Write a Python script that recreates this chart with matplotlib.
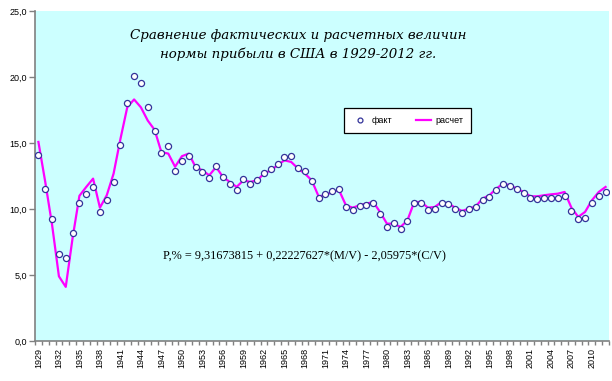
import matplotlib.pyplot as plt
import numpy as np

years = list(range(1929, 2013))

fact = [14.07, 11.49, 9.22, 6.62, 6.32, 8.18, 10.45, 11.11, 11.64, 9.80,
        10.66, 12.02, 14.88, 18.06, 20.05, 19.57, 17.76, 15.94, 14.27, 14.80,
        12.88, 13.67, 14.05, 13.18, 12.80, 12.38, 13.26, 12.42, 11.92, 11.42,
        12.25, 11.92, 12.17, 12.75, 13.06, 13.44, 13.94, 14.02, 13.11, 12.86,
        12.10, 10.84, 11.11, 11.34, 11.49, 10.15, 9.95, 10.20, 10.28, 10.48,
        9.65, 8.64, 8.97, 8.51, 9.07, 10.45, 10.48, 9.90, 9.98, 10.45,
        10.36, 9.98, 9.73, 9.98, 10.15, 10.66, 10.91, 11.47, 11.87, 11.72,
        11.49, 11.21, 10.86, 10.73, 10.84, 10.84, 10.86, 10.96, 9.85, 9.27,
        9.35, 10.45, 10.96, 11.29]

calc = [15.08, 12.05, 8.8, 4.9, 4.1, 7.8, 11.0, 11.67, 12.30, 10.10,
        11.04, 12.68, 15.30, 17.70, 18.30, 17.70, 16.70, 16.00, 14.30, 14.20,
        13.20, 14.00, 14.20, 13.18, 12.93, 12.55, 13.18, 12.43, 12.05, 11.67,
        12.17, 12.05, 12.17, 12.68, 12.93, 13.31, 13.69, 13.56, 13.06, 12.68,
        12.17, 10.96, 11.04, 11.29, 11.42, 10.28, 10.10, 10.28, 10.41, 10.53,
        9.77, 8.89, 8.89, 8.64, 9.14, 10.53, 10.53, 10.10, 10.15, 10.53,
        10.41, 10.10, 9.85, 10.03, 10.20, 10.79, 11.04, 11.54, 11.92, 11.80,
        11.54, 11.29, 10.96, 10.96, 11.04, 11.11, 11.16, 11.29, 10.10, 9.40,
        9.78, 10.66, 11.29, 11.67]

title_text = "Сравнение фактических и расчетных величин\nнормы прибыли в США в 1929-2012 гг."
formula = "P,% = 9,31673815 + 0,22227627*(M/V) - 2,05975*(C/V)"

x = np.arange(len(years))

fig = plt.figure(figsize=(6.12, 3.81), dpi=100)
fig.patch.set_facecolor('white')
ax = fig.add_axes([35 / 612, 1 - 341 / 381, 574 / 612, 330 / 381])
ax.set_facecolor('#CCFFFF')

ax.plot(x, calc, color='#FF00FF', linewidth=1.6, label='расчет', zorder=2)
ax.plot(x, fact, linestyle='none', marker='o', markersize=4.4,
        markerfacecolor='white', markeredgecolor='#333399',
        markeredgewidth=0.9, label='факт', zorder=3)

ax.set_xlim(-0.5, len(years) - 0.5)
ax.set_ylim(0, 25)

yt = np.arange(0, 26, 5)
ax.set_yticks(yt)
ax.set_yticklabels([f"{v:.1f}".replace('.', ',') for v in yt],
                   fontsize=6.5, family='Liberation Sans')
ax.tick_params(axis='y', direction='out', length=4, width=1, color='#808080', pad=2)

ax.set_xticks(x[::3])
ax.set_xticklabels([str(y) for y in years[::3]], rotation=90,
                   fontsize=6.5, family='Liberation Sans')
ax.set_xticks(np.arange(-0.5, len(years), 1), minor=True)
ax.tick_params(axis='x', which='major', length=0, pad=5)
ax.tick_params(axis='x', which='minor', direction='out', length=3, width=1, color='#808080')

for s in ['top', 'right']:
    ax.spines[s].set_visible(False)
for s in ['left', 'bottom']:
    ax.spines[s].set_color('#808080')
    ax.spines[s].set_linewidth(1.2)

fig.text(298 / 612, 1 - 45 / 381, title_text, ha='center', va='center',
         fontsize=9.6, family='DejaVu Serif', style='italic',
         linespacing=1.6, color='black')

fig.text(304 / 612, 1 - 256 / 381, formula, ha='center', va='center',
         fontsize=8.8, family='Liberation Serif', color='black')

handles, labels = ax.get_legend_handles_labels()
leg = ax.legend(handles[::-1], labels[::-1], ncol=2,
                bbox_to_anchor=(0.531, 0.627, 0.237, 0.082), loc='center',
                mode='expand', frameon=True, fancybox=False, edgecolor='black',
                framealpha=1, prop={'family': 'Liberation Sans', 'size': 6.5},
                handlelength=1.6, borderpad=0.9, columnspacing=1.0,
                handletextpad=0.5, markerscale=0.8)
leg.get_frame().set_linewidth(0.9)

fig.savefig('out.png', dpi=100)
